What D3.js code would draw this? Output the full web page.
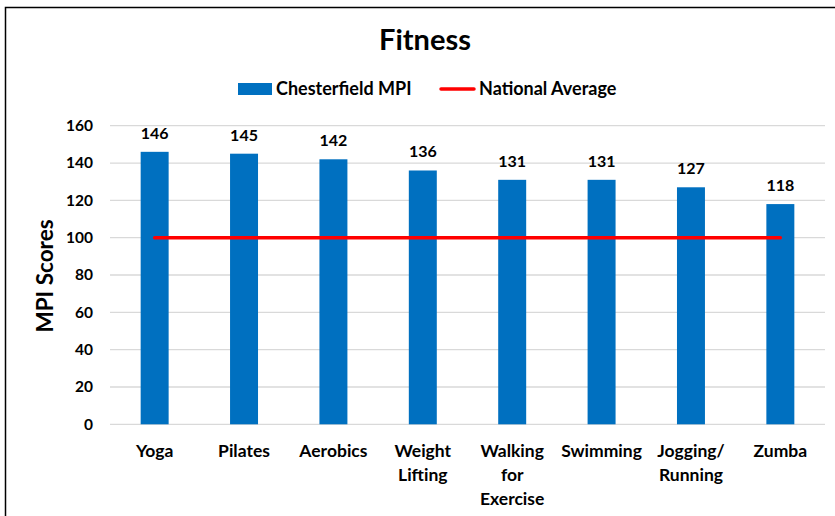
<!DOCTYPE html>
<html><head><meta charset="utf-8">
<script src="https://cdn.jsdelivr.net/npm/d3@7"></script>
<style>body{margin:0;background:#fff}svg{display:block;font-family:Lato,'Open Sans',sans-serif}</style>
</head><body><svg id="c" width="835" height="516"></svg>
<script>
const categories = [["Yoga"],["Pilates"],["Aerobics"],["Weight","Lifting"],["Walking","for","Exercise"],["Swimming"],["Jogging/","Running"],["Zumba"]];
const mpiValues = [146,145,142,136,131,131,127,118];
const nationalAverage = [100,100,100,100,100,100,100,100];
const yTicks = [0,20,40,60,80,100,120,140,160];

(function(){
const svg = d3.select("#c");
svg.append("rect").attr("x",5.5).attr("y",7.5).attr("width",840).attr("height",520)
  .attr("fill","#fff").attr("stroke","#000").attr("stroke-width",1.5);

const pLeft=110, pRight=825, pTop=125.7, pBottom=424.3;
const x = d3.scaleBand().domain(d3.range(categories.length)).range([pLeft,pRight]).paddingInner(0.687).paddingOuter(0.343);
const y = d3.scaleLinear().domain([0,160]).range([pBottom,pTop]);

// grid
svg.append("g").selectAll("line").data(yTicks).join("line")
  .attr("x1",pLeft).attr("x2",pRight).attr("y1",d=>y(d)).attr("y2",d=>y(d))
  .attr("stroke","#d9d9d9").attr("stroke-width",1.3);

// y axis
const yAxis = svg.append("g").attr("transform",`translate(${pLeft},0)`)
  .call(d3.axisLeft(y).tickValues(yTicks).tickSize(0).tickPadding(17));
yAxis.select(".domain").remove();
yAxis.selectAll("text").attr("font-size",15.5).attr("font-weight","bold").attr("fill","#000").attr("font-family","Lato,sans-serif");

svg.append("text").attr("transform","translate(53,276) rotate(-90)").attr("text-anchor","middle")
  .attr("font-size",22.5).attr("font-weight","bold").text("MPI Scores");

// bars
svg.append("g").selectAll("rect").data(mpiValues).join("rect")
  .attr("x",(d,i)=>x(i)).attr("width",x.bandwidth())
  .attr("y",d=>y(d)).attr("height",d=>pBottom-y(d)).attr("fill","#0070C0");

// value labels
svg.append("g").selectAll("text").data(mpiValues).join("text")
  .attr("x",(d,i)=>x(i)+x.bandwidth()/2).attr("y",d=>y(d)-13)
  .attr("text-anchor","middle").attr("font-size",16).attr("font-weight","bold").text(d=>d);

// national average line
const line = d3.line().x((d,i)=>x(i)+x.bandwidth()/2).y(d=>y(d));
svg.append("path").datum(nationalAverage).attr("d",line).attr("fill","none")
  .attr("stroke","#FF0000").attr("stroke-width",3.5).attr("stroke-linecap","round");

// x labels
const xl = svg.append("g").selectAll("text").data(categories).join("text")
  .attr("text-anchor","middle").attr("font-size",17.5).attr("font-weight","bold")
  .attr("x",(d,i)=>x(i)+x.bandwidth()/2).attr("y",457);
xl.selectAll("tspan").data(d=>d).join("tspan")
  .attr("x",function(){return this.parentNode.getAttribute("x");})
  .attr("dy",(d,i)=>i===0?0:24).text(d=>d);

// title
svg.append("text").attr("x",425).attr("y",50).attr("text-anchor","middle")
  .attr("font-size",29).attr("font-weight","bold").text("Fitness");

// legend
svg.append("rect").attr("x",238).attr("y",83).attr("width",34).attr("height",12).attr("fill","#0070C0");
svg.append("text").attr("x",276).attr("y",95).attr("font-size",18).attr("font-weight","bold").text("Chesterfield MPI");
svg.append("line").attr("x1",441).attr("x2",474).attr("y1",89).attr("y2",89).attr("stroke","#FF0000").attr("stroke-width",3.5).attr("stroke-linecap","round");
svg.append("text").attr("x",479).attr("y",95).attr("font-size",18).attr("font-weight","bold").text("National Average");
})();
</script></body></html>
